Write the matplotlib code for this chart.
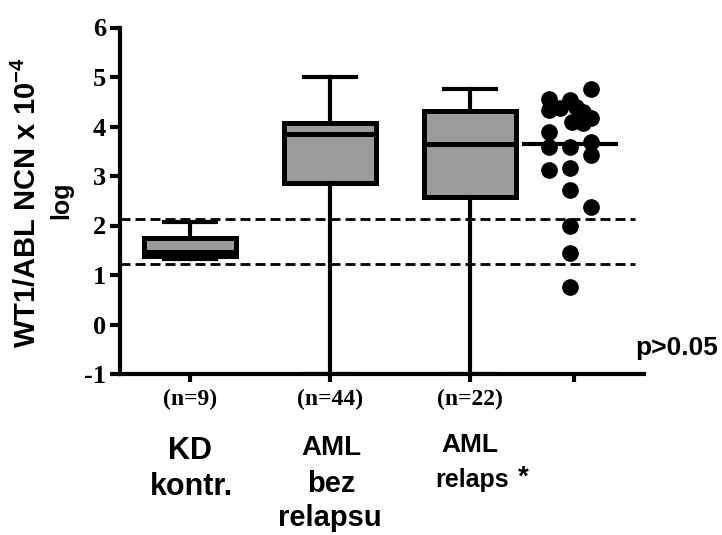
import matplotlib
matplotlib.use("Agg")
import matplotlib.pyplot as plt

# --- data -------------------------------------------------------------
groups = ["KD kontr.", "AML bez relapsu", "AML relaps"]
n_labels = ["(n=9)", "(n=44)", "(n=22)", ""]

whislo = [1.33, -1.0, -1.0]
q1 = [1.38, 2.86, 2.58]
medians = [1.46, 3.85, 3.64]
q3 = [1.74, 4.07, 4.31]
whishi = [2.07, 5.00, 4.76]

# individual relapse values, with the column each dot is stacked in
relaps_values = [4.76, 4.56, 4.33, 4.37, 4.54, 4.29, 4.09, 4.07, 4.17, 3.89, 3.59,
                 3.59, 3.69, 3.42, 3.12, 3.16, 2.72, 2.37, 1.99, 1.44, 0.76, 4.40]
relaps_cols = [1, -1, -1, -0.5, 0, 0.6, 0.1, 0.6, 1, -1, -1,
               0, 1, 1, -1, 0, 0, 1, 0, 0, 0, 0.3]
relaps_median = 3.64

cutoffs = [2.14, 1.22]
y_ticks = [-1, 0, 1, 2, 3, 4, 5, 6]

# --- figure -----------------------------------------------------------
W, H = 722, 535
fig = plt.figure(figsize=(W / 100, H / 100), dpi=100)
ax = fig.add_axes([120 / W, (H - 374) / H, (644 - 120) / W, (374 - 27.5) / H])

positions = [0, 1, 2]
scatter_x = 2.715

ax.set_xlim(-0.5, 3.243)
ax.set_ylim(-1, 6)

stats = []
for i, g in enumerate(groups):
    stats.append(dict(label=g, whislo=whislo[i], q1=q1[i], med=medians[i],
                      q3=q3[i], whishi=whishi[i], fliers=[]))

ax.bxp(stats, positions=positions, widths=0.66, capwidths=0.37,
       showfliers=False, patch_artist=True,
       boxprops=dict(facecolor="#9b9b9e", edgecolor="black", linewidth=3.6),
       whiskerprops=dict(color="black", linewidth=3.0),
       capprops=dict(color="black", linewidth=3.0),
       medianprops=dict(color="black", linewidth=3.6),
       zorder=3)

# cut-off lines
ax.hlines(cutoffs, -0.5, 3.18, colors="black", linewidth=2.0,
          linestyles=[(0, (3.6, 1.8))], zorder=2)

# dot plot of relapse samples
xs = [scatter_x + 0.15 * c for c in relaps_cols]
ax.plot(xs, relaps_values, "o", color="black", markersize=11, zorder=4,
        clip_on=False)
ax.hlines(relaps_median, scatter_x - 0.34, scatter_x + 0.34, colors="black",
          linewidth=3.0, zorder=5)

# axes styling
for s in ("top", "right"):
    ax.spines[s].set_visible(False)
for s in ("left", "bottom"):
    ax.spines[s].set_linewidth(3.0)

ax.set_yticks(y_ticks)
ax.set_yticklabels([str(v) for v in y_ticks], fontfamily="Liberation Serif",
                   fontweight="bold", fontsize=19)
ax.set_xticks(positions + [2.74])
ax.set_xticklabels(n_labels, fontfamily="Liberation Serif", fontweight="bold",
                   fontsize=17)
ax.tick_params(axis="y", direction="out", length=7, width=3, pad=3)
ax.tick_params(axis="x", direction="out", length=6, width=3, pad=5)

# --- texts --------------------------------------------------------------
def px(x, y):
    return x / W, 1 - y / H

sans = "Liberation Sans"
plt.rcParams["mathtext.fontset"] = "custom"
plt.rcParams["mathtext.rm"] = "Liberation Sans:bold"
plt.rcParams["mathtext.bf"] = "Liberation Sans:bold"

fig.text(*px(27, 203), r"WT1/ABL NCN x 10$^{\mathbf{-4}}$", rotation=90,
         ha="center", va="center", fontfamily=sans, fontweight="bold",
         fontsize=21)
fig.text(*px(61, 200), "log", rotation=90, ha="center", va="center",
         fontfamily=sans, fontweight="bold", fontsize=18)

fig.text(*px(718, 355), "p>0.05", ha="right", va="baseline",
         fontfamily=sans, fontweight="bold", fontsize=19)

cat_lines = [
    (190, 459, "KD", 22), (191, 495, "kontr.", 22),
    (331, 455, "AML", 20), (331, 492, "bez", 21), (330, 526, "relapsu", 21),
    (470, 452, "AML", 19), (472, 487, "relaps", 18),
]
for x, y, t, fs in cat_lines:
    fig.text(*px(x, y), t, ha="center", va="baseline", fontfamily=sans,
             fontweight="bold", fontsize=fs)
fig.text(*px(523, 478), "*", ha="center", va="center", fontfamily=sans,
         fontweight="bold", fontsize=20)

fig.savefig("out.png", dpi=100)
